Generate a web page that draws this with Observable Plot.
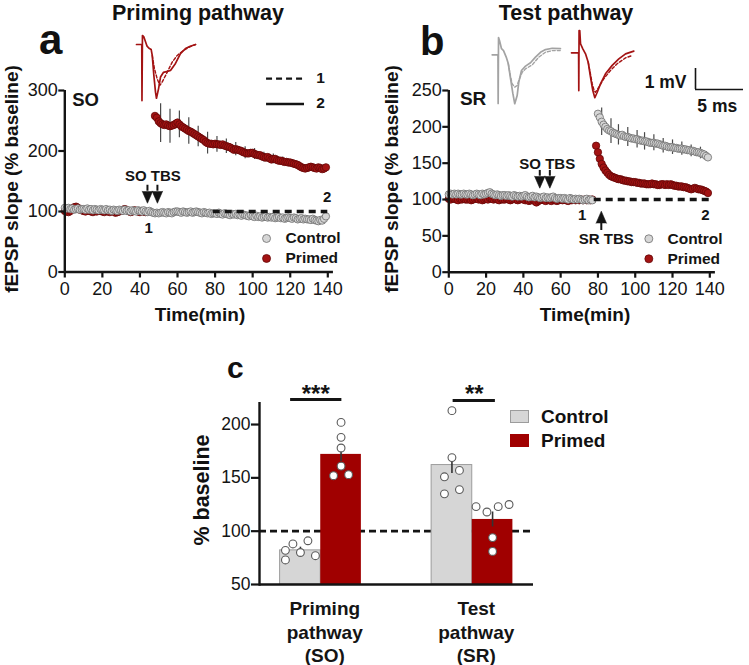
<!DOCTYPE html>
<html>
<head>
<meta charset="utf-8">
<script src="https://cdn.jsdelivr.net/npm/d3@7"></script>
<script src="https://cdn.jsdelivr.net/npm/@observablehq/plot@0.6"></script>
<style>
  html, body { margin: 0; padding: 0; background: #fff; }
  #fig { position: relative; width: 749px; height: 665px; overflow: hidden; background: #fff;
         font-family: "Liberation Sans", Arial, Helvetica, sans-serif; color: #111; }
  .panel { position: absolute; }
  .panel svg { display: block; }
  .lbl { position: absolute; white-space: nowrap; line-height: 1; font-weight: bold; color: #111; }
  .sw { position: absolute; box-sizing: border-box; }
</style>
</head>
<body>
<div id="fig"></div>
<script>
// ================= DATA =================
// Panel a (priming pathway, SO) — fEPSP slope, % baseline, one value per minute
const ctrlA = [ // t = 0..139
  106,105,106,104,105,103,104,105,103,104,
  104,103,105,103,104,102,104,103,102,104,
  103,102,104,102,103,101,103,102,101,103,
  102,101,103,101,102,100,102,101,100,102,
  101,100,102,100,99,101,99,98,97,98,
  97,98,99,98,97,99,98,97,99,100,
  100,99,98,100,99,98,99,100,98,99,
  100,99,98,97,99,98,97,98,96,97,
  97,96,98,96,95,97,96,95,94,96,
  95,96,94,95,93,95,94,93,92,94,
  92,91,93,91,92,90,91,92,90,91,
  90,91,89,90,91,89,90,88,89,90,
  89,88,90,89,87,88,89,87,88,87,
  87,86,88,86,85,84,86,85,88,92
];
const primedA_base = [ // t = 0..43
  101,100,99,101,104,107,108,106,103,102,
  101,100,102,101,100,99,101,100,102,101,
  100,99,101,100,99,101,100,98,99,100,
  101,103,104,102,101,99,100,102,101,100,
  99,101,100,99
];
const primedA_post = [ // t = 48..139
  258,255,249,246,244,243,244,242,241,242,
  243,245,247,244,241,239,237,235,233,232,
  230,228,226,224,222,220,218,215,213,212,
  212,211,212,211,211,210,211,209,208,207,
  206,204,202,203,202,201,200,198,197,196,
  196,197,197,195,194,193,193,191,190,189,
  190,188,186,187,187,185,184,184,183,182,
  182,181,181,180,179,178,177,175,173,172,
  171,172,173,174,173,172,171,173,172,170,
  171,173
];
const primedA_semTime = [51,56,61,66,71,76,81,86,91,96,101,106,111,116,121,126,131,136];
const primedA_sem     = [32,28,22,22,17,18,13,12,11,10,9,8,8,7,6,5,5,4];

// Panel b (test pathway, SR)
const ctrlB_base = [ // t = 0..77
  107,108,107,108,107,108,107,107,108,107,
  107,108,107,106,107,108,107,106,108,107,
  108,109,110,108,107,106,107,106,105,106,
  106,105,106,105,104,106,105,104,105,104,
  105,106,104,103,104,105,103,104,103,102,
  103,104,102,103,102,103,104,102,101,102,
  102,101,102,101,100,102,101,100,101,100,
  101,100,99,100,101,99,100,99
];
const ctrlB_post = [ // t = 80..139
  218,213,207,203,200,197,195,194,192,191,
  190,189,188,189,187,186,186,185,184,184,
  183,183,182,181,181,180,180,179,178,178,
  178,177,177,176,175,174,174,173,172,172,
  172,171,171,170,170,170,169,169,168,168,
  167,167,166,165,165,164,163,162,160,158
];
const primedB_base = [ // t = 0..77
  101,100,102,101,100,99,101,100,101,100,
  100,101,99,100,101,102,100,101,99,100,
  101,100,102,101,100,101,100,99,101,100,
  100,101,100,99,100,101,100,99,100,101,
  100,99,100,98,99,100,98,96,98,99,
  100,99,98,100,99,98,100,99,98,99,
  100,99,100,99,98,100,99,100,99,100,
  99,100,99,100,99,100,99,100
];
const primedB_post = [ // t = 79..139
  174,165,156,149,144,140,137,134,132,131,
  130,129,128,128,127,126,126,125,125,124,
  124,124,123,123,122,122,122,121,121,121,
  122,121,121,120,120,121,121,120,121,120,
  121,120,119,119,118,118,118,117,117,116,
  115,114,115,116,115,114,114,113,112,111,
  109
];
const ctrlB_semTime = [82,87,91,96,101,105,110,115,120,125,130,135];
const ctrlB_sem     = [19,17,14,13,12,12,11,10,10,9,8,8];

// Timing annotations (min)
const tbsA = [44, 49.3];      // SO TBS, panel a
const tbsB = [48.8, 54.2];    // SO TBS, panel b
const srTbsB = [81.8];        // SR TBS, panel b
const refLineA = {from: 79, to: 140, level: 100};
const refLineB = {from: 78, to: 140, level: 100};

// Panel c — % baseline at the end of recording
const pathways = ["SO", "SR"];
const pathwayLabels = {SO: "Priming\npathway\n(SO)", SR: "Test\npathway\n(SR)"};
const meanControl = [82, 162];
const meanPrimed  = [172, 111];
const semControl  = [3, 8];
const semPrimed   = [7, 7];
const cellsControlSO = [82, 88, 80, 91, 77, 73];
const cellsPrimedSO  = [202, 188, 178, 161, 152, 153];
const cellsControlSR = [213, 169, 151, 157, 135, 139];
const cellsPrimedSR  = [123, 118, 123, 125, 94, 81];
const slotControlSO = [-2, -1, 0, 1, 2, -2];
const slotPrimedSO  = [0, 0, 0, 0, -1, 1];
const slotControlSR = [0, 0, -1, 1, -1, 1];
const slotPrimedSR  = [-2.2, -0.75, 0.75, 2.2, 0, 0];
const significance = [{p: "SO", stars: "***"}, {p: "SR", stars: "**"}];

// Example fEPSP traces [ms, mV]; 1 = before (dashed), 2 = end (solid)
const traceA_2 = [[0,0],[0.55,0],[0.57,-2.67],[0.62,0.43],[0.75,0.38],[1.1,-0.08],[1.3,-0.18],[1.53,-0.24],[1.64,-0.52],[1.81,-1.48],[1.98,-2.27],[2.08,-2.56],[2.3,-2.1],[2.5,-1.55],[2.8,-1.33],[3.13,-1.29],[3.54,-1.24],[4.06,-0.9],[4.58,-0.43],[5.1,-0.19],[5.6,-0.08],[6.15,0]];
const traceA_1 = [[1.64,-0.52],[1.875,-1.16],[2.15,-1.63],[2.43,-1.95],[2.67,-1.79],[3.02,-1.48],[3.37,-1.16],[3.72,-0.84],[4.24,-0.52],[4.76,-0.33],[5.45,-0.13],[6.15,0]];
const traceBc_2 = [[0,0],[0.6,0],[0.62,-2.32],[0.66,0.82],[0.76,0.68],[0.97,0.29],[1.18,0.2],[1.46,-0.11],[1.67,-0.41],[1.91,-1.13],[2.15,-1.84],[2.35,-2.33],[2.6,-1.94],[2.77,-1.3],[3.05,-0.75],[3.47,-0.54],[3.99,-0.38],[4.51,-0.11],[5.03,0.12],[5.55,0.25],[6.25,0.31],[7.11,0.29]];
const traceBc_1 = [[1.67,-0.41],[1.91,-1.03],[2.08,-1.38],[2.35,-1.54],[2.6,-1.46],[2.77,-1.22],[3.13,-0.83],[3.47,-0.67],[4.17,-0.48],[4.85,-0.11],[5.55,0.12],[6.25,0.2],[7.11,0.2]];
const traceBp_2 = [[0,0],[0.74,0],[0.76,-1.8],[0.79,1.06],[0.86,1.06],[0.94,0.43],[1.18,0.19],[1.46,-0.05],[1.74,-0.45],[1.98,-1.16],[2.22,-1.8],[2.43,-2.14],[2.68,-1.88],[3.02,-1.48],[3.54,-1.0],[4.24,-0.6],[4.93,-0.29],[5.63,-0.05],[6.49,0.08]];
const traceBp_1 = [[1.74,-0.45],[1.95,-0.94],[2.16,-1.48],[2.36,-1.8],[2.5,-1.88],[2.84,-1.64],[3.36,-1.24],[4.06,-0.84],[4.76,-0.52],[5.63,-0.24],[6.32,-0.13]];
const scaleBar = {mV: 1, ms: 5};

// ================= STYLE =================
const FONT = '"Liberation Sans", Arial, Helvetica, sans-serif';
const RED = "#a31313", RED_DARK = "#650808";
const GRAY_FILL = "#d6d6d6", GRAY_STROKE = "#6d6d6d";
const INK = "#141414";
const baseStyle = {fontFamily: FONT, background: "transparent", overflow: "visible", color: INK};

const fig = document.getElementById("fig");
function place(node, left, top, width) {
  const d = document.createElement("div");
  d.className = "panel";
  d.style.left = left + "px"; d.style.top = top + "px";
  if (width) d.style.width = width + "px";
  d.appendChild(node);
  fig.appendChild(d);
}
function label(text, x, baseline, fs, anchor = "start") {
  const d = document.createElement("div");
  d.className = "lbl"; d.textContent = text;
  d.style.fontSize = fs + "px";
  d.style.top = (baseline - 0.8465 * fs) + "px";
  d.style.left = x + "px";
  if (anchor === "middle") d.style.transform = "translateX(-50%)";
  fig.appendChild(d);
}
function vlabel(text, cx, cy, fs) {
  const d = document.createElement("div");
  d.className = "lbl"; d.textContent = text;
  d.style.fontSize = fs + "px";
  d.style.left = cx + "px"; d.style.top = cy + "px";
  d.style.transform = "translate(-50%,-50%) rotate(-90deg)";
  fig.appendChild(d);
}

const seq = (vals, start) => vals.map((v, i) => ({t: start + i, v}));
const A_ctrl = seq(ctrlA, 0);
const A_prim = [...seq(primedA_base, 0), ...seq(primedA_post, 48)];
const A_err = primedA_semTime.map((t, i) => ({t, v: primedA_post[t - 48], s: primedA_sem[i]}));
const B_ctrl = [...seq(ctrlB_base, 0), ...seq(ctrlB_post, 80)];
const B_prim = [...seq(primedB_base, 0), ...seq(primedB_post, 79)];
const B_err = ctrlB_semTime.map((t, i) => ({t, v: ctrlB_post[t - 80], s: ctrlB_sem[i]}));

const dotCtrl = {r: 3.7, fill: GRAY_FILL, stroke: GRAY_STROKE, strokeWidth: 0.8};
const dotPrim = {r: 3.7, fill: RED, stroke: RED_DARK, strokeWidth: 0.8};
const bold = (s, x, y, fs, o = {}) => Plot.text([s], {x, y, text: d => d, fontSize: fs, fontWeight: "bold", fill: INK, ...o});
function arrows(xs, yFrom, yBase, dir) {
  return [
    Plot.ruleX(xs, {x: d => d, y1: yFrom, y2: yBase, stroke: INK, strokeWidth: 2}),
    Plot.vector(xs, {x: d => d, y: yBase, rotate: dir === "down" ? 180 : 0, length: 12, r: 5.2,
      shape: "spike", anchor: "start", fill: INK, stroke: INK, strokeWidth: 0.6})
  ];
}
function legendMarks(xDot, yC, yP, xText, fs) {
  return [
    Plot.dot([0], {x: xDot, y: yC, ...dotCtrl, r: 4}),
    Plot.dot([0], {x: xDot, y: yP, ...dotPrim, r: 4}),
    bold("Control", xText, yC, fs, {textAnchor: "start"}),
    bold("Primed", xText, yP, fs, {textAnchor: "start"})
  ];
}
const axisOpts = {tickSize: 6, fontSize: 18, strokeWidth: 2.2, label: null};

// ================= PANEL a =================
const plotA = Plot.plot({
  width: 375, height: 330,
  marginLeft: 64.3, marginRight: 47.7, marginTop: 90, marginBottom: 58.5,
  x: {domain: [0, 140]}, y: {domain: [0, 300]},
  style: baseStyle,
  marks: [
    Plot.ruleX(A_err, {x: "t", y1: d => d.v - d.s, y2: d => d.v + d.s, stroke: "#4a4a4a", strokeWidth: 1.2}),
    Plot.dot(A_prim, {x: "t", y: "v", ...dotPrim}),
    Plot.dot(A_ctrl, {x: "t", y: "v", ...dotCtrl}),
    Plot.ruleY([refLineA], {y: "level", x1: "from", x2: "to", stroke: INK, strokeWidth: 3.6, strokeDasharray: "7,5"}),
    bold("SO", 3.9, 284.8, 18.5, {textAnchor: "start"}),
    bold("SO TBS", 46.9, 158.8, 15),
    ...arrows(tbsA, 143.4, 133.5, "down"),
    bold("1", 44.7, 72.6, 15),
    bold("2", 139.6, 123, 15),
    ...legendMarks(107.4, 55.4, 22.4, 117.5, 15.5),
    Plot.ruleY([319.6], {x1: 107.4, x2: 127.6, stroke: INK, strokeWidth: 2.2, strokeDasharray: "6,4"}),
    Plot.ruleY([277.6], {x1: 107.4, x2: 127.6, stroke: INK, strokeWidth: 2.4}),
    bold("1", 136.1, 320.7, 15.5),
    bold("2", 136.1, 279, 15.5),
    Plot.axisX({...axisOpts, ticks: d3.range(0, 141, 20), tickPadding: 4}),
    Plot.axisY({...axisOpts, ticks: [0, 100, 200, 300], tickPadding: 1}),
    Plot.ruleX([0], {y1: 0, y2: 300, stroke: INK, strokeWidth: 2.4}),
    Plot.ruleY([0], {x1: 0, x2: 143, stroke: INK, strokeWidth: 2.4})
  ]
});
place(plotA, 0, 0, 375);

// ================= PANEL b =================
const plotB = Plot.plot({
  width: 374, height: 330,
  marginLeft: 73.3, marginRight: 39.7, marginTop: 90, marginBottom: 58.3,
  x: {domain: [0, 140]}, y: {domain: [0, 250]},
  style: baseStyle,
  marks: [
    Plot.ruleX(B_err, {x: "t", y1: d => d.v - d.s, y2: d => d.v + d.s, stroke: "#4a4a4a", strokeWidth: 1.2}),
    Plot.dot(B_prim, {x: "t", y: "v", ...dotPrim}),
    Plot.dot(B_ctrl, {x: "t", y: "v", ...dotCtrl}),
    Plot.ruleY([refLineB], {y: "level", x1: "from", x2: "to", stroke: INK, strokeWidth: 3.6, strokeDasharray: "7,5"}),
    bold("SR", 5.95, 237.9, 19, {textAnchor: "start"}),
    bold("SO TBS", 52.8, 149.1, 15),
    ...arrows(tbsB, 140, 132.1, "down"),
    ...arrows(srTbsB, 57.4, 67.4, "up"),
    bold("SR TBS", 84.5, 45.4, 15),
    bold("1", 71.6, 78, 15),
    bold("2", 137.7, 78, 15),
    ...legendMarks(107.3, 46, 18.4, 117.3, 15.5),
    Plot.axisX({...axisOpts, ticks: d3.range(0, 141, 20), tickPadding: 4}),
    Plot.axisY({...axisOpts, ticks: [0, 50, 100, 150, 200, 250], tickPadding: 1}),
    Plot.ruleX([0], {y1: 0, y2: 250, stroke: INK, strokeWidth: 2.4}),
    Plot.ruleY([0], {x1: 0, x2: 143, stroke: INK, strokeWidth: 2.4})
  ]
});
place(plotB, 375, 0, 374);

// ================= INSET TRACES =================
function tracePlot(solid, dashed, color, w, h, xd, yd) {
  return Plot.plot({
    width: w, height: h, margin: 0,
    x: {domain: xd, axis: null}, y: {domain: yd, axis: null},
    style: baseStyle,
    marks: [
      Plot.line(dashed, {x: d => d[0], y: d => d[1], stroke: color, strokeWidth: 1.4, strokeDasharray: "3,2"}),
      Plot.line(solid, {x: d => d[0], y: d => d[1], stroke: color, strokeWidth: 1.7})
    ]
  });
}
place(tracePlot(traceA_2, traceA_1, RED, 62, 72, [0, 6.458], [-2.762, 0.667]), 136, 30, 62);
place(tracePlot(traceBc_2, traceBc_1, "#a3a3a3", 72, 76, [-0.073, 7.427], [-2.462, 1.157]), 491, 30, 72);
place(tracePlot(traceBp_2, traceBp_1, RED, 66, 76, [0, 6.875], [-2.319, 1.3]), 571, 25, 66);
// scale bar
const barX0 = 5.729;
place(Plot.plot({
  width: 109, height: 60, margin: 0,
  x: {domain: [0, 11.354], axis: null}, y: {domain: [-1.476, 1.381], axis: null},
  style: baseStyle,
  marks: [
    Plot.ruleX([barX0], {y1: 0, y2: scaleBar.mV, stroke: INK, strokeWidth: 1.6}),
    Plot.ruleY([0], {x1: barX0, x2: barX0 + scaleBar.ms, stroke: INK, strokeWidth: 1.6}),
    bold(`${scaleBar.mV} mV`, 4.79, 0.33, 17.5, {textAnchor: "end"}),
    bold(`${scaleBar.ms} ms`, 8.0, -0.81, 17.5)
  ]
}), 640, 60, 109);

// ================= PANEL c =================
const cX0 = 259, cX1 = 533, pIn = 0.4636, pOut = 0.136;
const step = (cX1 - cX0) / (pathways.length - pIn + 2 * pOut);
const bw = step * (1 - pIn);
const barsCtrl = pathways.map((p, i) => ({p, v: meanControl[i], s: semControl[i]}));
const barsPrim = pathways.map((p, i) => ({p, v: meanPrimed[i], s: semPrimed[i]}));
const cells = [];
const addCells = (p, g, vals, slots) => vals.forEach((v, i) => cells.push({p, g, v, slot: slots[i]}));
addCells("SO", "Control", cellsControlSO, slotControlSO);
addCells("SO", "Primed", cellsPrimedSO, slotPrimedSO);
addCells("SR", "Control", cellsControlSR, slotControlSR);
addCells("SR", "Primed", cellsPrimedSR, slotPrimedSR);
const cellMarks = Array.from(d3.group(cells, d => d.g + "|" + d.slot), ([key, rows]) =>
  Plot.dot(rows, {x: "p", y: "v", r: 3.9, fill: "white", stroke: "#5a5a5a", strokeWidth: 1.1,
    dx: (rows[0].g === "Control" ? -bw / 4 : bw / 4) + rows[0].slot * 7.5}));

const plotC = Plot.plot({
  width: 560, height: 285,
  marginLeft: cX0 - 190, marginRight: 190 + 560 - cX1, marginTop: 22.7, marginBottom: 81,
  x: {domain: pathways, paddingInner: pIn, paddingOuter: pOut, align: 0.5, round: false, axis: null},
  y: {domain: [50, 220]},
  style: baseStyle,
  marks: [
    Plot.ruleY([100], {stroke: INK, strokeWidth: 2.8, strokeDasharray: "7,4"}),
    Plot.barY(barsCtrl, {x: "p", y1: 50, y2: "v", fill: GRAY_FILL, stroke: "#9c9c9c", strokeWidth: 1, insetRight: bw / 2}),
    Plot.barY(barsPrim, {x: "p", y1: 50, y2: "v", fill: "#a00000", insetLeft: bw / 2}),
    Plot.ruleX(barsCtrl, {x: "p", y1: d => d.v - d.s, y2: d => d.v + d.s, dx: -bw / 4, stroke: "#333", strokeWidth: 1.6}),
    Plot.ruleX(barsPrim, {x: "p", y1: d => d.v - d.s, y2: d => d.v + d.s, dx: bw / 4, stroke: "#333", strokeWidth: 1.6}),
    ...cellMarks,
    Plot.ruleY([significance[0]], {x1: "p", x2: "p", y: 223.5, insetLeft: 10.5, insetRight: 19.5, stroke: INK, strokeWidth: 3}),
    Plot.ruleY([significance[1]], {x1: "p", x2: "p", y: 222.6, insetLeft: 21.5, insetRight: 17.5, stroke: INK, strokeWidth: 3}),
    Plot.text([significance[0]], {x: "p", y: 228.3, text: "stars", dx: -5, fontSize: 24, fontWeight: "bold", fill: INK}),
    Plot.text([significance[1]], {x: "p", y: 228.3, text: "stars", dx: 2, fontSize: 24, fontWeight: "bold", fill: INK}),
    Plot.text(pathways, {x: d => d, text: d => pathwayLabels[d], frameAnchor: "bottom", lineAnchor: "top",
      dy: 14, dx: 4, lineHeight: 1.24, fontSize: 19, fontWeight: "bold", fill: INK}),
    Plot.axisY({ticks: [50, 100, 150, 200], tickSize: 8, tickPadding: 1, fontSize: 17.5, strokeWidth: 2.2, label: null}),
    Plot.frame({anchor: "left", stroke: INK, strokeWidth: 2.4}),
    Plot.ruleY([50], {stroke: INK, strokeWidth: 2.4})
  ]
});
place(plotC, 190, 380, 560);

// ================= TITLES, LABELS, LEGEND =================
label("Priming pathway", 198, 21, 21.5, "middle");
label("Test pathway", 566, 21, 21.5, "middle");
label("a", 39, 55, 42);
label("b", 420, 55, 40);
label("c", 227, 378, 30);
vlabel("fEPSP slope (% baseline)", 10.5, 179, 19);
vlabel("fEPSP slope (% baseline)", 391, 179, 19);
label("Time(min)", 200, 321, 19, "middle");
label("Time(min)", 585, 321, 19, "middle");
vlabel("% baseline", 203, 490, 21.5);

function swatch(left, top, fill, stroke) {
  const d = document.createElement("div");
  d.className = "sw";
  Object.assign(d.style, {left: left + "px", top: top + "px", width: "19px", height: "13px",
    background: fill, border: "1px solid " + stroke});
  fig.appendChild(d);
}
swatch(510, 410, GRAY_FILL, "#9c9c9c");
swatch(510, 434, "#a00000", "#a00000");
label("Control", 541, 423.5, 19);
label("Primed", 541, 447.5, 19);
</script>
</body>
</html>
